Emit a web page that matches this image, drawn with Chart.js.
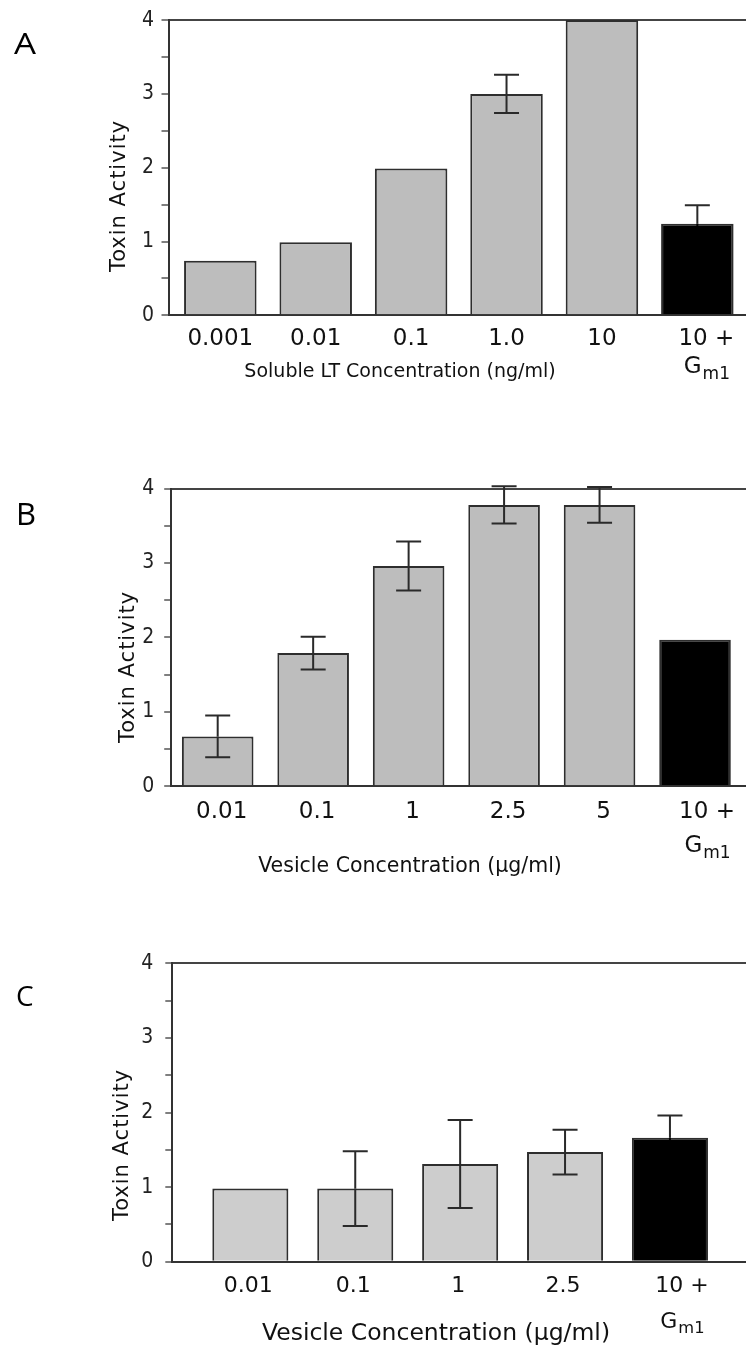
<!DOCTYPE html>
<html><head><meta charset="utf-8">
<script src="https://cdn.jsdelivr.net/npm/chart.js@4.4.1/dist/chart.umd.min.js"></script>
<style>
html,body{margin:0;padding:0;background:#fff;}
body{width:746px;height:1345px;position:relative;overflow:hidden;}
canvas{position:absolute;left:0;}
</style></head><body>
<canvas id="cA" width="746" height="430" style="top:0px"></canvas>
<canvas id="cB" width="746" height="470" style="top:430px"></canvas>
<canvas id="cC" width="746" height="445" style="top:900px"></canvas>
<script>
// ---- data ----
const yTickValues = [0, 1, 2, 3, 4];
const gm1Base = 'G';
const gm1Sub = 'm1';

const labelsA = ['0.001', '0.01', '0.1', '1.0', '10', '10 +'];
const valuesA = [0.74, 0.99, 1.99, 3.00, 4.00, 1.24];
const errorsA = [0, 0, 0, 0.26, 0, 0.25];

const labelsB = ['0.01', '0.1', '1', '2.5', '5', '10 +'];
const valuesB = [0.67, 1.79, 2.96, 3.78, 3.78, 1.97];
const errorsB = [0.28, 0.22, 0.33, 0.25, 0.24, 0];

const labelsC = ['0.01', '0.1', '1', '2.5', '10 +'];
const valuesC = [0.98, 0.98, 1.31, 1.47, 1.66];
const errorsC = [0, 0.50, 0.59, 0.30, 0.30];

const yTitle = 'Toxin Activity';
const xTitleA = 'Soluble LT Concentration (ng/ml)';
const xTitleB = 'Vesicle Concentration (μg/ml)';
const xTitleC = 'Vesicle Concentration (μg/ml)';

// ---- plugins ----
const errorBars = {
  id: 'errorBars',
  afterDatasetsDraw(chart, args, o) {
    const {ctx, scales: {x, y}} = chart;
    const ds = chart.data.datasets[0];
    const n = ds.data.length;
    ctx.save();
    ctx.lineWidth = o.width; ctx.lineCap = 'butt';
    ds.data.forEach((d, i) => {
      const e = o.errors[i];
      if (!e) return;
      const px = x.getPixelForValue(d.x);
      const yv = y.getPixelForValue(d.y);
      const yt = y.getPixelForValue(d.y + e);
      const yb = y.getPixelForValue(d.y - e);
      ctx.strokeStyle = o.color;
      ctx.beginPath();
      ctx.moveTo(px, yt); ctx.lineTo(px, yv);
      ctx.moveTo(px - o.cap / 2, yt); ctx.lineTo(px + o.cap / 2, yt);
      ctx.stroke();
      ctx.strokeStyle = i === n - 1 ? '#000' : o.color;
      ctx.beginPath();
      ctx.moveTo(px, yv); ctx.lineTo(px, yb);
      ctx.moveTo(px - o.cap / 2, yb); ctx.lineTo(px + o.cap / 2, yb);
      ctx.stroke();
    });
    ctx.restore();
  }
};
const panelText = {
  id: 'panelText',
  afterDraw(chart, args, o) {
    const ctx = chart.ctx;
    o.items.forEach(it => {
      ctx.save();
      ctx.font = it.font; ctx.fillStyle = it.color || '#111';
      ctx.textAlign = it.align || 'center'; ctx.textBaseline = 'alphabetic';
      if (it.spacing) ctx.letterSpacing = it.spacing;
      ctx.translate(it.x, it.y);
      if (it.rotate) ctx.rotate(it.rotate);
      if (it.sx) ctx.scale(it.sx, 1);
      ctx.fillText(it.text, 0, 0);
      ctx.restore();
    });
    // last category label: "10 +" over G with subscript m1
    const g = o.gm1;
    const xs = chart.scales.x;
    const n = chart.data.datasets[0].data.length;
    const px = xs.getPixelForValue(n - 1) + g.dx;
    const bottom = chart.chartArea.bottom;
    ctx.save();
    ctx.fillStyle = '#111';
    const fMain = `${g.size}px "DejaVu Sans", sans-serif`;
    const fSub = `${g.size * 0.74}px "DejaVu Sans", sans-serif`;
    ctx.font = fMain; ctx.textAlign = 'center'; ctx.textBaseline = 'middle';
    ctx.fillText(o.lastLabel, px, bottom + g.pad + g.size * 0.6);
    ctx.textBaseline = 'alphabetic'; ctx.textAlign = 'left';
    const by = bottom + g.dy;
    const w1 = ctx.measureText(gm1Base).width;
    ctx.font = fSub; const w2 = ctx.measureText(gm1Sub).width;
    const x0 = px - (w1 + w2) / 2;
    ctx.font = fMain; ctx.fillText(gm1Base, x0, by);
    ctx.font = fSub; ctx.fillText(gm1Sub, x0 + w1 + 1, by + g.size * 0.24);
    ctx.restore();
  }
};

function makePanel(cfg) {
  const n = cfg.values.length;
  const H = cfg.canvasH;
  return new Chart(document.getElementById(cfg.id), {
    type: 'bar',
    data: {
      datasets: [{
        data: cfg.values.map((v, i) => ({x: i, y: v})),
        backgroundColor: c => c.dataIndex === n - 1 ? '#000000' : cfg.fill,
        borderColor: '#2e2e2e',
        borderWidth: 2,
        borderSkipped: 'start',
        barPercentage: cfg.barPct,
        categoryPercentage: 1
      }]
    },
    options: {
      responsive: false, animation: false, devicePixelRatio: 1,
      layout: {padding: {top: cfg.plotTop, right: 0, bottom: 0, left: 0}},
      plugins: {
        legend: {display: false}, tooltip: {enabled: false}, title: {display: false},
        errorBars: {errors: cfg.errors, color: '#2a2a2a', width: 2, cap: 25},
        panelText: {items: cfg.texts, gm1: cfg.gm1, lastLabel: cfg.labels[n - 1]}
      },
      scales: {
        x: {
          type: 'linear', position: 'bottom', min: cfg.xMin, max: cfg.xMax,
          offset: false,
          afterBuildTicks: s => { s.ticks = cfg.labels.map((_, i) => ({value: i})); },
          afterFit: s => { s.height = H - cfg.plotBottom; },
          ticks: {
            autoSkip: false, maxRotation: 0, minRotation: 0,
            callback: (v) => (v === n - 1 ? '' : cfg.labels[v]),
            font: {family: '"DejaVu Sans", sans-serif', size: cfg.xFont},
            color: '#111', padding: cfg.xPad, labelOffset: cfg.xLabelOffset
          },
          grid: {display: false, drawTicks: false, offset: false},
          border: {display: true, color: '#333', width: 2}
        },
        y: {
          min: 0, max: 4, position: 'left',
          afterFit: s => { s.width = cfg.axisX; },
          ticks: {
            stepSize: 0.5,
            callback: v => yTickValues.includes(v) ? String(v) : '',
            font: {family: '"DejaVu Sans Condensed", "Liberation Sans Narrow", "DejaVu Sans", sans-serif', size: 21},
            color: '#222', padding: cfg.yPad
          },
          grid: {
            drawOnChartArea: true, drawTicks: true, tickLength: 7,
            color: c => (c.tick && c.tick.value === 4) ? '#444' : 'rgba(0,0,0,0)',
            lineWidth: 2, tickColor: '#555', tickWidth: 1.5
          },
          border: {display: true, color: '#333', width: 2}
        }
      }
    },
    plugins: [errorBars, panelText]
  });
}

const letterFont = s => `${s}px "Open Sans", "DejaVu Sans", sans-serif`;
const textFont = s => `${s}px "DejaVu Sans", sans-serif`;

makePanel({
  id: 'cA', canvasH: 430, labels: labelsA, values: valuesA, errors: errorsA,
  axisX: 168.5, plotTop: 16.7, plotBottom: 315.3, xMin: -0.543, xMax: 5.51,
  barPct: 0.76, fill: '#bdbdbd', yPad: 7.5, xFont: 23, xPad: 10, xLabelOffset: 0,
  gm1: {size: 23, dx: 9, dy: 57.7, pad: 10},
  texts: [
    {text: 'A', x: 14, y: 54, font: letterFont(29), align: 'left', color: '#000', sx: 1.2},
    {text: yTitle, x: 125, y: 196, font: textFont(21), spacing: '1px', rotate: -Math.PI / 2},
    {text: xTitleA, x: 400, y: 377, font: textFont(19)}
  ]
});
makePanel({
  id: 'cB', canvasH: 470, labels: labelsB, values: valuesB, errors: errorsB,
  axisX: 171.2, plotTop: 488.6 - 430, plotBottom: 786.3 - 430, xMin: -0.487, xMax: 5.534,
  barPct: 0.75, fill: '#bdbdbd', yPad: 10, xFont: 23, xPad: 12, xLabelOffset: 4,
  gm1: {size: 23, dx: 12, dy: 65.7, pad: 12},
  texts: [
    {text: 'B', x: 16, y: 525 - 430, font: letterFont(31), align: 'left', color: '#000'},
    {text: yTitle, x: 134, y: 667 - 430, font: textFont(21), spacing: '1px', rotate: -Math.PI / 2},
    {text: xTitleB, x: 410, y: 872 - 430, font: textFont(20.5)}
  ]
});
makePanel({
  id: 'cC', canvasH: 445, labels: labelsC, values: valuesC, errors: errorsC,
  axisX: 172.3, plotTop: 963.3 - 900, plotBottom: 1261.7 - 900, xMin: -0.744, xMax: 4.725,
  barPct: 0.725, fill: '#cdcdcd', yPad: 12, xFont: 22, xPad: 11, xLabelOffset: -2,
  gm1: {size: 22, dx: 12, dy: 66.3, pad: 11},
  texts: [
    {text: 'C', x: 16, y: 1006 - 900, font: letterFont(28), align: 'left', color: '#000'},
    {text: yTitle, x: 128, y: 1145 - 900, font: textFont(21), spacing: '1px', rotate: -Math.PI / 2},
    {text: xTitleC, x: 436, y: 1340 - 900, font: textFont(23.5)}
  ]
});
</script>
</body></html>
